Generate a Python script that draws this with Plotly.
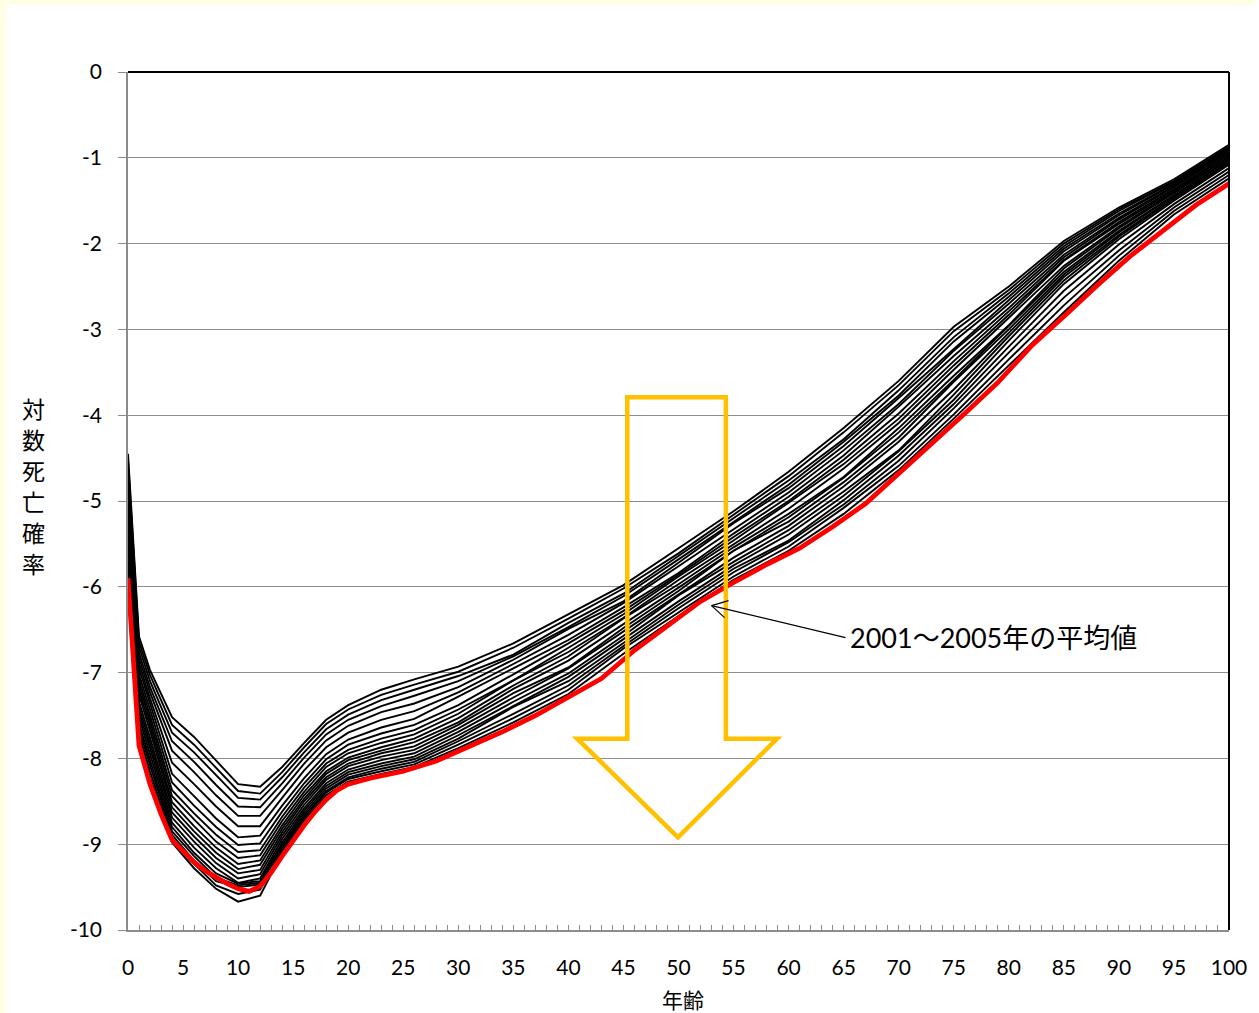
import plotly.graph_objects as go

# ---------------- data ----------------
AGES = [0, 1, 2, 4, 6, 8, 10, 12, 14, 16, 18, 20, 23, 26, 30, 35, 40, 45, 50,
        55, 60, 65, 70, 75, 80, 85, 90, 95, 100]

curve_01 = [-4.45, -6.58, -6.97, -7.52, -7.75, -8.02, -8.30, -8.33, -8.10, -7.82, -7.55, -7.38, -7.20, -7.08, -6.93, -6.66, -6.32, -5.98, -5.55, -5.12, -4.66, -4.15, -3.60, -2.97, -2.50, -1.97, -1.58, -1.25, -0.85]
curve_02 = [-4.52, -6.64, -7.03, -7.61, -7.84, -8.11, -8.38, -8.41, -8.16, -7.87, -7.60, -7.43, -7.26, -7.14, -6.99, -6.71, -6.37, -6.02, -5.61, -5.16, -4.71, -4.20, -3.65, -3.02, -2.54, -2.00, -1.60, -1.27, -0.87]
curve_03 = [-4.58, -6.70, -7.10, -7.70, -7.93, -8.20, -8.46, -8.48, -8.22, -7.93, -7.66, -7.49, -7.32, -7.20, -7.04, -6.79, -6.42, -6.08, -5.64, -5.21, -4.76, -4.28, -3.71, -3.09, -2.58, -2.03, -1.62, -1.28, -0.88]
curve_04 = [-4.66, -6.77, -7.17, -7.80, -8.04, -8.31, -8.56, -8.57, -8.29, -7.99, -7.72, -7.55, -7.39, -7.27, -7.10, -6.81, -6.47, -6.11, -5.68, -5.25, -4.81, -4.31, -3.77, -3.14, -2.62, -2.06, -1.65, -1.30, -0.89]
curve_05 = [-4.73, -6.83, -7.23, -7.91, -8.16, -8.43, -8.67, -8.67, -8.37, -8.06, -7.79, -7.62, -7.46, -7.36, -7.17, -6.85, -6.49, -6.17, -5.72, -5.26, -4.85, -4.36, -3.80, -3.23, -2.67, -2.09, -1.67, -1.31, -0.91]
curve_06 = [-4.80, -6.89, -7.30, -8.05, -8.30, -8.56, -8.79, -8.79, -8.46, -8.14, -7.87, -7.70, -7.55, -7.45, -7.23, -6.90, -6.56, -6.19, -5.76, -5.33, -4.90, -4.41, -3.87, -3.25, -2.70, -2.13, -1.70, -1.33, -0.92]
curve_07 = [-4.86, -6.95, -7.36, -8.18, -8.44, -8.70, -8.92, -8.90, -8.55, -8.23, -7.95, -7.78, -7.64, -7.54, -7.28, -6.95, -6.62, -6.24, -5.84, -5.38, -4.95, -4.47, -3.90, -3.31, -2.75, -2.16, -1.72, -1.34, -0.94]
curve_08 = [-4.94, -7.02, -7.43, -8.28, -8.55, -8.80, -9.01, -8.99, -8.62, -8.29, -8.01, -7.84, -7.71, -7.61, -7.38, -7.02, -6.66, -6.28, -5.86, -5.42, -5.00, -4.52, -3.98, -3.37, -2.79, -2.19, -1.75, -1.36, -0.96]
curve_09 = [-5.01, -7.08, -7.50, -8.37, -8.64, -8.89, -9.09, -9.07, -8.68, -8.34, -8.06, -7.90, -7.77, -7.67, -7.43, -7.09, -6.71, -6.32, -5.88, -5.46, -5.02, -4.57, -4.04, -3.42, -2.83, -2.20, -1.77, -1.38, -0.97]
curve_10 = [-5.08, -7.14, -7.56, -8.44, -8.71, -8.97, -9.16, -9.13, -8.73, -8.39, -8.10, -7.94, -7.82, -7.72, -7.48, -7.09, -6.76, -6.36, -5.92, -5.50, -5.09, -4.62, -4.09, -3.47, -2.87, -2.26, -1.80, -1.39, -0.99]
curve_11 = [-5.14, -7.20, -7.62, -8.51, -8.79, -9.04, -9.23, -9.19, -8.78, -8.43, -8.15, -7.99, -7.87, -7.77, -7.53, -7.15, -6.81, -6.37, -5.97, -5.54, -5.15, -4.72, -4.15, -3.54, -2.95, -2.29, -1.82, -1.41, -1.00]
curve_12 = [-5.21, -7.26, -7.68, -8.57, -8.85, -9.10, -9.29, -9.24, -8.82, -8.47, -8.18, -8.02, -7.91, -7.81, -7.58, -7.19, -6.86, -6.44, -6.01, -5.58, -5.19, -4.73, -4.20, -3.59, -2.96, -2.33, -1.85, -1.43, -1.02]
curve_13 = [-5.29, -7.34, -7.76, -8.63, -8.91, -9.16, -9.34, -9.30, -8.86, -8.50, -8.22, -8.06, -7.94, -7.86, -7.61, -7.24, -6.94, -6.48, -6.05, -5.58, -5.24, -4.78, -4.26, -3.61, -3.00, -2.36, -1.87, -1.44, -1.03]
curve_14 = [-5.35, -7.40, -7.82, -8.69, -8.97, -9.22, -9.40, -9.35, -8.90, -8.54, -8.25, -8.09, -7.98, -7.90, -7.65, -7.29, -6.95, -6.52, -6.09, -5.66, -5.29, -4.83, -4.31, -3.70, -3.04, -2.39, -1.90, -1.46, -1.05]
curve_15 = [-5.42, -7.46, -7.88, -8.75, -9.04, -9.28, -9.45, -9.40, -8.94, -8.58, -8.29, -8.13, -8.02, -7.94, -7.69, -7.34, -7.01, -6.57, -6.10, -5.71, -5.34, -4.89, -4.41, -3.76, -3.08, -2.43, -1.92, -1.48, -1.06]
curve_16 = [-5.49, -7.52, -7.95, -8.80, -9.10, -9.34, -9.46, -9.43, -8.98, -8.61, -8.32, -8.16, -8.06, -7.98, -7.73, -7.39, -7.05, -6.61, -6.17, -5.75, -5.39, -4.94, -4.42, -3.82, -3.13, -2.47, -1.95, -1.50, -1.08]
curve_17 = [-5.57, -7.59, -8.02, -8.85, -9.14, -9.39, -9.48, -9.45, -9.01, -8.64, -8.35, -8.19, -8.09, -8.01, -7.77, -7.40, -7.10, -6.65, -6.21, -5.79, -5.46, -4.99, -4.47, -3.87, -3.20, -2.55, -2.01, -1.54, -1.12]
curve_18 = [-5.63, -7.65, -8.08, -8.89, -9.19, -9.43, -9.50, -9.47, -9.04, -8.67, -8.38, -8.22, -8.12, -8.04, -7.80, -7.48, -7.15, -6.69, -6.25, -5.83, -5.48, -5.04, -4.53, -3.92, -3.27, -2.63, -2.08, -1.58, -1.16]
curve_19 = [-5.70, -7.71, -8.15, -8.94, -9.23, -9.48, -9.58, -9.53, -9.07, -8.69, -8.40, -8.24, -8.15, -8.07, -7.84, -7.53, -7.20, -6.72, -6.30, -5.88, -5.53, -5.08, -4.59, -3.99, -3.35, -2.72, -2.14, -1.62, -1.20]
curve_20 = [-5.78, -7.78, -8.22, -8.98, -9.28, -9.52, -9.67, -9.60, -9.10, -8.72, -8.43, -8.27, -8.18, -8.10, -7.88, -7.58, -7.25, -6.78, -6.34, -5.92, -5.58, -5.15, -4.64, -4.04, -3.42, -2.80, -2.20, -1.66, -1.24]

black_curves = [curve_01, curve_02, curve_03, curve_04, curve_05, curve_06, curve_07,
                curve_08, curve_09, curve_10, curve_11, curve_12, curve_13, curve_14,
                curve_15, curve_16, curve_17, curve_18, curve_19, curve_20]

RED_AGES = [0, 1, 2, 3, 4, 5, 6, 7, 8, 9, 10, 11, 12, 13, 14, 15, 16, 17, 18, 19, 20,
            22, 25, 28, 31, 34, 37, 40, 43, 46, 49, 52, 55, 58, 61, 64, 67, 70, 73,
            76, 79, 82, 85, 88, 91, 94, 97, 100]
RED_VALUES = [-5.90, -7.85, -8.30, -8.65, -8.95, -9.09, -9.21, -9.31, -9.39, -9.46,
              -9.52, -9.55, -9.49, -9.33, -9.14, -8.95, -8.78, -8.62, -8.48, -8.37,
              -8.30, -8.23, -8.15, -8.03, -7.86, -7.69, -7.50, -7.29, -7.07, -6.74,
              -6.46, -6.17, -5.95, -5.74, -5.55, -5.30, -5.03, -4.68, -4.34, -3.98,
              -3.62, -3.20, -2.85, -2.49, -2.15, -1.85, -1.55, -1.30]

X_TICKS = list(range(0, 101, 5))
Y_TICKS = list(range(-10, 1, 1))
LABEL_TEXT = "2001～2005年の平均値"
Y_TITLE = "対数死亡確率"
X_TITLE = "年齢"

# ---------------- figure ----------------
FONT = "Lato, 'Noto Sans CJK JP', sans-serif"
JP_FONT = "'Noto Sans CJK JP', sans-serif"
GRAY = "#8c8c8c"
ORANGE = "#FFC000"

fig = go.Figure()
for c in black_curves:
    fig.add_trace(go.Scatter(x=AGES, y=c, mode="lines",
                             line=dict(color="black", width=1.9),
                             showlegend=False, hoverinfo="skip"))
fig.add_trace(go.Scatter(x=RED_AGES, y=RED_VALUES, mode="lines",
                         line=dict(color="#FF0000", width=4.8),
                         showlegend=False, hoverinfo="skip"))

W, H = 1259, 1013
ML, MR, MT, MB = 128, 28, 72, 83
PW, PH = W - ML - MR, H - MT - MB


def px_x(p):
    return (p - ML) / PW


def px_y(p):
    return (H - MB - p) / PH


shapes = [
    # pale yellow frame (top and left)
    dict(type="rect", xref="paper", yref="paper", x0=px_x(0), x1=px_x(W), y0=px_y(5), y1=px_y(0),
         fillcolor="#FFFFE6", line=dict(width=0), layer="below"),
    dict(type="rect", xref="paper", yref="paper", x0=px_x(0), x1=px_x(6), y0=px_y(H), y1=px_y(0),
         fillcolor="#FFFFE6", line=dict(width=0), layer="below"),
    # plot-area border top and right (black)
    dict(type="line", xref="paper", yref="paper", x0=0, x1=1, y0=1, y1=1,
         line=dict(color="black", width=2), layer="above"),
    dict(type="line", xref="paper", yref="paper", x0=1, x1=1, y0=0, y1=1,
         line=dict(color="black", width=2), layer="above"),
]

# hollow orange block arrow (decoration)
arrow_path = ("M 45.35,-3.79 L 54.3,-3.79 L 54.3,-7.77 L 58.95,-7.77 L 49.95,-8.92 "
              "L 40.8,-7.77 L 45.35,-7.77 Z")
shapes.append(dict(type="path", xref="x", yref="y", path=arrow_path,
                   line=dict(color=ORANGE, width=4.5), fillcolor="rgba(0,0,0,0)",
                   layer="above"))

# callout line with open arrow head, anchored at the red curve
TIP_X, TIP_Y = 53.0, -6.22
for (dx, dy) in [(134, -32), (17, 5), (13, -12)]:
    shapes.append(dict(type="line", xref="x", yref="y", xsizemode="pixel", ysizemode="pixel",
                       xanchor=TIP_X, yanchor=TIP_Y, x0=0, y0=0, x1=dx, y1=dy,
                       line=dict(color="black", width=1.2), layer="above"))

annotations = [
    dict(x=TIP_X, y=TIP_Y, xref="x", yref="y", text=LABEL_TEXT, showarrow=False,
         xanchor="left", yanchor="middle", xshift=136, yshift=-32,
         font=dict(family=FONT, size=27, color="black")),
    dict(x=px_x(684), y=px_y(999), xref="paper", yref="paper", text=X_TITLE,
         showarrow=False, xanchor="center", yanchor="middle",
         font=dict(family=JP_FONT, size=21, color="black")),
]
# vertical (stacked) y-axis title, one character per line
for k, ch in enumerate(Y_TITLE):
    annotations.append(dict(x=px_x(33), y=px_y(408 + 31 * k), xref="paper", yref="paper",
                            text=ch, showarrow=False, xanchor="center", yanchor="middle",
                            borderpad=0,
                            font=dict(family=JP_FONT, size=23, color="black")))

fig.update_layout(
    width=W, height=H,
    margin=dict(l=ML, r=MR, t=MT, b=MB, pad=0),
    paper_bgcolor="white", plot_bgcolor="white",
    shapes=shapes, annotations=annotations,
    xaxis=dict(range=[0, 100], tickvals=X_TICKS, ticktext=[str(v) for v in X_TICKS],
               showline=True, linecolor=GRAY, linewidth=1.5,
               ticks="inside", ticklen=5, tickwidth=1, tickcolor=GRAY,
               minor=dict(dtick=1, tick0=0, ticks="inside", ticklen=5, tickwidth=1,
                          tickcolor=GRAY, showgrid=False),
               showgrid=False, zeroline=False, ticklabelstandoff=18,
               tickfont=dict(family=FONT, size=21, color="black")),
    yaxis=dict(range=[-10, 0], tickvals=Y_TICKS, ticktext=[str(v) for v in Y_TICKS],
               showline=True, linecolor=GRAY, linewidth=1.5,
               ticks="outside", ticklen=8, tickwidth=1.3, tickcolor=GRAY,
               showgrid=True, gridcolor=GRAY, gridwidth=1.3, zeroline=False,
               ticklabelstandoff=12,
               tickfont=dict(family=FONT, size=21, color="black")),
)

fig.write_html("out.html", config={"displayModeBar": False},
               post_script="document.body.style.margin='0';document.body.style.overflow='hidden';")
